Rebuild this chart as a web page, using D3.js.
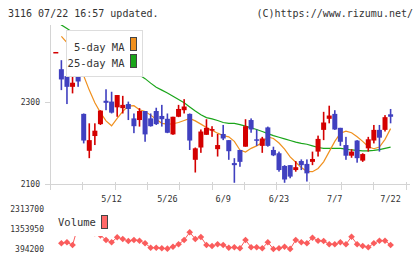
<!DOCTYPE html>
<html>
<head>
<meta charset="utf-8">
<script src="https://cdn.jsdelivr.net/npm/d3@7"></script>
<style>
    body { margin: 0; background: #fff; }
    svg { display: block; }
    text { font-family: 'DejaVu Sans Mono', monospace; fill: #333; }
</style>
</head>
<body>
<div id="chart"></div>
<script>
const dates = ["4/23","4/24","4/25","4/28","4/30","5/1","5/2","5/7","5/8","5/9",
    "5/12","5/13","5/14","5/15","5/16","5/19","5/20","5/21","5/22","5/23",
    "5/26","5/27","5/28","5/29","5/30","6/2","6/3","6/4","6/5","6/6",
    "6/9","6/10","6/11","6/12","6/13","6/16","6/17","6/18","6/19","6/20",
    "6/23","6/24","6/25","6/26","6/27","6/30","7/1","7/2","7/3","7/4",
    "7/7","7/8","7/9","7/10","7/11","7/14","7/15","7/16","7/17","7/18","7/22"];

const open  = [2421,2380,2363,2337,2366,2271,2181,2217,2246,2303,2301,2287,2285,2295,2260,2256,2278,2260,2278,2266,
               2259,2221,2264,2280,2271,2159,2189,2220,2230,2185,2222,2207,2151,2183,2191,2256,2209,2193,2238,2183,
               2175,2144,2146,2134,2156,2149,2154,2179,2232,2259,2271,2237,2195,2169,2206,2157,2187,2206,2232,2232,2270];
const high  = [2422,2402,2363,2362,2439,2272,2248,2248,2280,2331,2325,2317,2315,2301,2272,2285,2278,2272,2286,2293,
               2272,2264,2293,2307,2272,2189,2233,2258,2241,2222,2244,2207,2163,2183,2258,2260,2233,2215,2240,2191,
               2179,2146,2146,2156,2160,2160,2179,2218,2276,2291,2280,2237,2215,2185,2207,2175,2215,2244,2244,2268,2283];
const low   = [2421,2329,2295,2321,2337,2199,2163,2195,2244,2280,2272,2264,2272,2256,2224,2240,2203,2240,2244,2240,
               2224,2220,2263,2272,2183,2128,2176,2220,2215,2167,2207,2159,2103,2142,2191,2225,2193,2176,2191,2168,
               2130,2103,2114,2130,2134,2106,2146,2167,2207,2248,2232,2193,2159,2164,2152,2154,2179,2199,2179,2228,2248];
const close = [2422,2355,2337,2347,2350,2206,2207,2230,2279,2298,2274,2317,2293,2283,2241,2278,2221,2241,2246,2258,
               2225,2264,2283,2289,2206,2187,2228,2237,2234,2195,2211,2180,2146,2154,2241,2233,2206,2211,2193,2170,
               2134,2111,2118,2141,2146,2126,2161,2210,2250,2267,2233,2203,2169,2179,2163,2173,2209,2232,2213,2263,2264];

const ma5  = [null,2460,2445,2418,2391,2364,2329,2298,2274,2254,2242,2260,2277,2290,2291,2281,2277,2268,2258,2248,
              2246,2247,2250,2255,2260,2254,2246,2238,2231,2224,2218,2215,2204,2183,2178,2187,2193,2201,2215,2211,
              2200,2185,2166,2153,2140,2131,2130,2138,2154,2179,2204,2224,2229,2225,2215,2204,2191,2186,2190,2209,2235];
const ma25 = [2497,2488,2479,2470,2462,2453,2444,2436,2427,2418,2410,2401,2392,2383,2375,2366,2357,2346,2336,2329,
              2322,2314,2306,2298,2288,2278,2269,2262,2259,2255,2250,2248,2248,2245,2241,2237,2233,2228,2223,2218,
              2214,2210,2206,2202,2199,2197,2193,2189,2187,2187,2187,2187,2185,2183,2182,2181,2181,2182,2184,2187,2190];

const volume = [null,668000,715700,586000,1500000,2313700,1600000,1150000,1050000,826000,
                716000,955700,874000,778000,826000,792500,668000,456600,456600,427800,
                410000,504600,619700,826000,1195600,874000,970000,586000,538200,619700,
                586000,456600,475800,427800,826000,475800,475800,427800,715700,394200,
                427800,504600,400000,826000,715700,668000,936500,792500,778000,619700,
                619700,715700,619700,984400,619700,538200,475800,668000,792500,792500,586000];

const priceTicks = [2100, 2300];
const volumeTicks = [394200, 1353950, 2313700];
const labelDates = ["5/12", "5/26", "6/9", "6/23", "7/7", "7/22"];

const width = 420, height = 259;
const upColor = "#d40000", downColor = "#4040c0";
const ma5Color = "#f0901e", ma25Color = "#1aa51a", volColor = "#fa5c5c";

const svg = d3.select("#chart").append("svg")
    .attr("width", width)
    .attr("height", height);

const x = d3.scalePoint().domain(dates).range([55.8, 390.6]);
const y = d3.scaleLinear().domain([2100, 2300]).range([184, 102]);
const yv = d3.scaleLinear().domain([394200, 2313700]).range([249, 209]);
const grid = d3.scaleLinear().domain([0, 11]).range([50, 405.7]);

// header
svg.append("text").attr("x", 8).attr("y", 17).attr("font-size", 10)
    .text("3116 07/22 16:57 updated.");
svg.append("text").attr("x", 413).attr("y", 17).attr("font-size", 10)
    .attr("text-anchor", "end")
    .text("(C)https://www.rizumu.net/");

svg.append("clipPath").attr("id", "plot")
  .append("rect").attr("x", 50).attr("y", 25).attr("width", 362).attr("height", 160);

// axes
svg.append("line")
    .attr("x1", 50.5).attr("x2", 50.5).attr("y1", 25).attr("y2", 190)
    .attr("stroke", "#d4d4d4");
svg.append("line")
    .attr("x1", 50).attr("x2", 410).attr("y1", 184.5).attr("y2", 184.5)
    .attr("stroke", "#d4d4d4");

svg.append("g")
    .selectAll("line")
    .data(d3.range(1, 12))
    .enter().append("line")
      .attr("x1", d => Math.round(grid(d)) + 0.5)
      .attr("x2", d => Math.round(grid(d)) + 0.5)
      .attr("y1", 182).attr("y2", 190)
      .attr("stroke", "#d4d4d4");

const yAxis = svg.append("g").selectAll("g")
    .data(priceTicks)
    .enter().append("g")
      .attr("transform", d => "translate(0," + y(d) + ")");
yAxis.append("line")
    .attr("x1", 45).attr("x2", 50).attr("y1", 0.5).attr("y2", 0.5)
    .attr("stroke", "#d4d4d4");
yAxis.append("text")
    .attr("x", 40).attr("dy", "0.35em").attr("font-size", 8)
    .attr("text-anchor", "end")
    .text(d => d);

svg.append("g").selectAll("text")
    .data(labelDates)
    .enter().append("text")
      .attr("x", d => x(d))
      .attr("y", 201.5)
      .attr("font-size", 8.5)
      .attr("text-anchor", "middle")
      .text(d => d);

svg.append("g").selectAll("text")
    .data(volumeTicks)
    .enter().append("text")
      .attr("x", 44).attr("y", d => yv(d)).attr("dy", "0.35em")
      .attr("font-size", 8)
      .attr("text-anchor", "end")
      .text(d => d);

// moving averages
const plot = svg.append("g").attr("clip-path", "url(#plot)");

function maLine(values) {
    return d3.line()
        .defined(d => d != null)
        .x((d, i) => x(dates[i]))
        .y(d => y(d))(values);
}

plot.append("path")
    .attr("d", maLine(ma25))
    .attr("fill", "none")
    .attr("stroke", ma25Color)
    .attr("stroke-width", 1.2);
plot.append("path")
    .attr("d", maLine(ma5))
    .attr("fill", "none")
    .attr("stroke", ma5Color)
    .attr("stroke-width", 1.2);

// price legend
const legend = svg.append("g");
legend.append("rect")
    .attr("x", 66.5).attr("y", 30.5).attr("width", 76).attr("height", 46)
    .attr("fill", "#fff").attr("stroke", "#ddd");
const legendItems = [["5-day MA", ma5Color], ["25-day MA", ma25Color]];
legendItems.forEach((item, i) => {
    legend.append("text")
        .attr("x", 124.5).attr("y", 47 + i * 16.5).attr("dy", "0.35em")
        .attr("font-size", 10.5)
        .attr("text-anchor", "end")
        .text(item[0]);
    legend.append("rect")
        .attr("x", 130.5).attr("y", 37.5 + i * 17).attr("width", 6).attr("height", 13)
        .attr("fill", item[1]).attr("stroke", "#444");
});

// candles
const candles = plot.append("g")
  .selectAll("g")
  .data(dates)
  .enter().append("g")
    .attr("fill", (d, i) => close[i] >= open[i] ? upColor : downColor);

candles.append("rect")
    .attr("x", d => x(d) - 0.8)
    .attr("width", 1.6)
    .attr("y", (d, i) => y(high[i]))
    .attr("height", (d, i) => Math.max(1, y(low[i]) - y(high[i])));

candles.append("rect")
    .attr("x", d => x(d) - 2.5)
    .attr("width", 5)
    .attr("y", (d, i) => y(Math.max(open[i], close[i])))
    .attr("height", (d, i) => Math.max(1.5, Math.abs(y(open[i]) - y(close[i]))));

// volume
const volLine = d3.line()
    .defined(d => d != null)
    .x((d, i) => x(dates[i]))
    .y(d => yv(d));

svg.append("path")
    .attr("d", volLine(volume))
    .attr("fill", "none")
    .attr("stroke", volColor)
    .attr("stroke-width", 1);

svg.append("g").selectAll("path")
    .data(volume.map((v, i) => [dates[i], v]).filter(d => d[1] != null))
    .enter().append("path")
      .attr("d", d3.symbol(d3.symbolSquare, 22))
      .attr("transform", d => "translate(" + x(d[0]) + "," + yv(d[1]) + ") rotate(45)")
      .attr("fill", volColor);

const volLegend = svg.append("g");
volLegend.append("rect")
    .attr("x", 53).attr("y", 204).attr("width", 60).attr("height", 32)
    .attr("fill", "#fff");
volLegend.append("text")
    .attr("x", 58).attr("y", 222).attr("dy", "0.35em")
    .attr("font-size", 10.5)
    .text("Volume");
volLegend.append("rect")
    .attr("x", 101.5).attr("y", 215.5).attr("width", 6).attr("height", 13)
    .attr("fill", "#ff6868").attr("stroke", "#444");
</script>
</body>
</html>
